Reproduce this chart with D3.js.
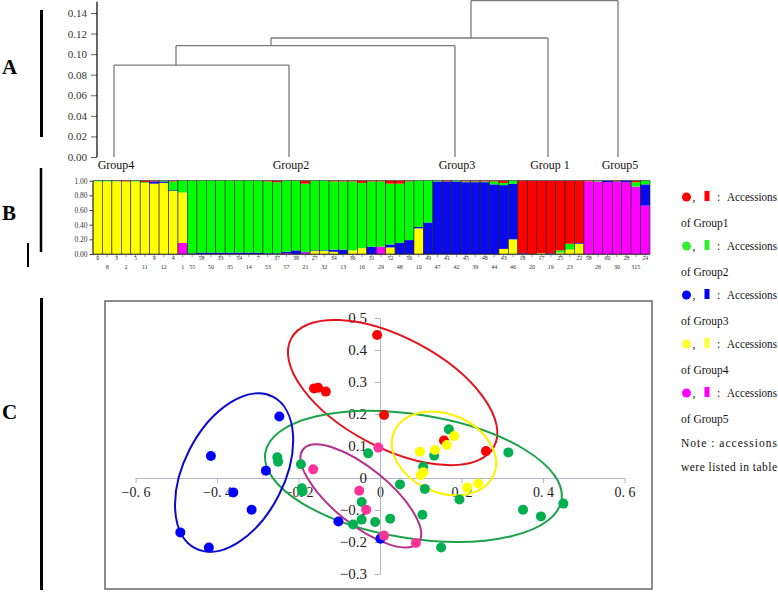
<!DOCTYPE html>
<html><head><meta charset="utf-8">
<script src="https://cdn.jsdelivr.net/npm/d3@7"></script>
<style>body{margin:0;background:#fff}svg{display:block}svg text{font-family:"Liberation Serif","Times New Roman",serif}</style>
</head><body><svg id="c" width="778" height="592"></svg>
<script>
// ---------- DATA ----------
// Panel A: dendrogram
const dendroTicks = [0, 0.02, 0.04, 0.06, 0.08, 0.10, 0.12, 0.14];
const leafNames = ["Group4", "Group2", "Group3", "Group 1", "Group5"];
const leafPos = [1.7, 19.2, 35.8, 45.1, 52.1];          // leaf order units
const mergeHeights = [0.0894, 0.1082, 0.1157, 0.152];   // successive joins
const mergeStem = [7.9, 17.4, 37.4];                     // where joined clusters rise

// Panel B: membership proportions (59 accessions)
const barLabels = ["0","8","3","2","5","11","9","12","4","1",
  "55","58","50","33","35","54","14","7","53","37",
  "57","38","21","27","32","34","13","36","16","31",
  "29","52","48","56","10","49",
  "47","41","42","45","39","48","44","43","46",
  "18","20","17","19","25","23","22",
  "58","26","60","30","28","315","24"];
const qRed = [0,0,.005,.01,0,.02,.01,0,.01,0, 0,0,0,0,0,0,0,0,.01,.02, 0,0,.04,0,0,.01,.01,.01,.03,.01, .01,.04,.04,.01,0,0, 0,.01,0,.01,.01,.01,.01,.03,0, .99,1,.99,.99,.95,.86,.85, .01,0,0,.01,0,.02,0];
const qGreen = [.01,.01,.005,0,.01,.01,0,.01,.12,.16, .99,.98,.98,.98,.98,.98,.98,.98,.98,.97, .97,.95,.93,.95,.95,.93,.93,.94,.89,.89, .89,.83,.81,.80,.63,.57, .01,0,.01,.01,.01,.01,.04,.03,.04, 0,0,0,0,.03,.08,0, 0,.01,0,0,0,.06,.05];
const qBlue = [0,0,0,0,0,0,.03,.02,.01,0, .01,.02,.02,.02,.02,.02,.02,.02,.01,.01, .02,.05,.01,.01,.01,.03,.06,0,0,.10, 0,.04,.15,.19,.02,.43, .99,.99,.99,.98,.98,.98,.95,.87,.76, .01,0,0,.01,0,0,.01, 0,0,.02,.01,.02,0,.29];
const qYellow = [.99,.99,.99,.99,.99,.97,.96,.97,.86,.69, 0,0,0,0,0,0,0,0,0,0, 0,0,0,.04,.04,.03,0,.05,.08,0, 0,.09,0,0,.35,0, 0,0,0,0,0,0,0,.07,.20, 0,0,.01,0,.02,.06,.14, 0,0,0,0,0,0,0];
const qMagenta = [0,0,0,0,0,0,0,0,0,.15, 0,0,0,0,0,0,0,0,0,0, .01,0,.02,0,0,0,0,0,0,0, .10,0,0,0,0,0, 0,0,0,0,0,0,0,0,0, 0,0,0,0,0,0,0, .99,.99,.98,.98,.98,.92,.66];
const bTicks = [0, 0.2, 0.4, 0.6, 0.8, 1.0];

// Panel C: PCoA coordinates
const pcRed = [[-0.007,0.447],[-0.162,0.28],[-0.152,0.282],[-0.133,0.27],[0.01,0.197],[0.157,0.117],[0.26,0.084]];
const pcGreen = [[-0.252,0.065],[-0.25,0.051],[-0.194,0.043],[-0.029,0.077],[-0.192,-0.032],[-0.19,-0.042],
  [0.169,0.152],[0.133,0.07],[0.106,0.035],[0.049,-0.02],[0.11,-0.034],[0.315,0.08],[0.195,-0.067],
  [-0.045,-0.075],[-0.045,-0.13],[-0.066,-0.145],[-0.012,-0.1375],[0.025,-0.127],[0.104,-0.115],
  [0.15,-0.217],[0.351,-0.099],[0.395,-0.12],[0.45,-0.08]];
const pcBlue = [[-0.247,0.192],[-0.415,0.069],[-0.28,0.023],[-0.36,-0.045],[-0.315,-0.099],[-0.49,-0.17],[-0.42,-0.217],[-0.102,-0.136],[0.001,-0.19]];
const pcPink = [[-0.164,0.027],[-0.051,-0.04],[-0.004,0.095],[-0.034,-0.099],[0.01,-0.18],[0.088,-0.203]];
const pcYellow = [[0.098,0.082],[0.135,0.0875],[0.164,0.103],[0.182,0.131],[0.106,0.018],[0.1,0.009],[0.214,-0.03],[0.241,-0.017]];
// ellipses: centre (x,y), semi-axes (x units), rotation deg
const ellRed = [0.031, 0.267, 0.282, 0.135, 28];
const ellGreen = [0.082, 0.005, 0.368, 0.152, 9];
const ellBlue = [-0.358, 0.017, 0.209, 0.123, -63];
const ellYellow = [0.157, 0.077, 0.133, 0.096, 23.5];
const ellPink = [-0.047, -0.056, 0.182, 0.069, 39];
const cXTicks = [-0.6, -0.4, -0.2, 0, 0.2, 0.4, 0.6];
const cYTicks = [-0.3, -0.2, -0.1, 0, 0.1, 0.2, 0.3, 0.4, 0.5];

const legendGroups = ["Group1", "Group2", "Group3", "Group4", "Group5"];

// ---------- DRAW ----------
const serif = "Liberation Serif, Times New Roman, serif";
const svg = d3.select("#c");
svg.append("rect").attr("width", 778).attr("height", 592).attr("fill", "#fff");
const setFont = (sel, size) => sel.style("font-family", serif).style("font-size", size + "px");

// Panel letters and side bars
[["A", 74], ["B", 220], ["C", 419]].forEach(([t, y]) => {
  setFont(svg.append("text").attr("x", 2).attr("y", y).text(t), 21)
    .style("font-weight", "bold").attr("fill", "#000");
});
[[41.5, 10, 137, 3], [41, 168, 252, 2.5], [28, 243, 267, 2], [41.5, 298, 590, 3]].forEach(([x, y1, y2, w]) => {
  svg.append("line").attr("x1", x).attr("x2", x).attr("y1", y1).attr("y2", y2)
    .attr("stroke", "#000").attr("stroke-width", w);
});

// ----- Panel A -----
const yA = d3.scaleLinear().domain([0, 0.14]).range([157, 13]);
const xA = d3.scaleLinear().domain([0, 56]).range([97, 657]);
const gA = svg.append("g");
const axA = gA.append("g").attr("transform", "translate(97,0)")
  .call(d3.axisLeft(yA).tickValues(dendroTicks).tickFormat(d3.format(".2f")).tickSize(6).tickSizeOuter(0).tickPadding(4));
axA.select(".domain").remove();
axA.selectAll("line").attr("stroke", "#666");
setFont(axA.selectAll("text"), 11).attr("fill", "#333");
gA.append("line").attr("x1", 97).attr("x2", 97).attr("y1", yA(0)).attr("y2", yA(mergeHeights[3]) + 1)
  .attr("stroke", "#000").attr("stroke-width", 1.2);

const dLines = [];
const leafTop = [mergeHeights[0], mergeHeights[0], mergeHeights[1], mergeHeights[2], mergeHeights[3]];
leafPos.forEach((p, i) => dLines.push([p, 0, p, leafTop[i]]));
mergeHeights.forEach((h, k) => {
  const left = k === 0 ? leafPos[0] : mergeStem[k - 1];
  const right = leafPos[k + 1];
  dLines.push([left, h, right, h]);
  if (k < mergeStem.length) dLines.push([mergeStem[k], h, mergeStem[k], mergeHeights[k + 1]]);
});
gA.selectAll("line.d").data(dLines).join("line").attr("class", "d")
  .attr("x1", d => xA(d[0])).attr("x2", d => xA(d[2]))
  .attr("y1", d => yA(d[1])).attr("y2", d => yA(d[3]))
  .attr("stroke", "#7a7a7a").attr("stroke-width", 1.3);
setFont(gA.selectAll("text.leaf").data(leafNames).join("text").attr("class", "leaf")
  .attr("x", (d, i) => xA(leafPos[i]) + 2).attr("y", 168.5).attr("text-anchor", "middle")
  .attr("fill", "#111").text(d => d), 12);

// ----- Panel B -----
const colB = {M: "#ff00ff", Y: "#ffff00", B: "#0a0af0", G: "#00ff00", R: "#ff0000"};
const order = [["M", qMagenta], ["Y", qYellow], ["B", qBlue], ["G", qGreen], ["R", qRed]];
const xB = d3.scaleBand().domain(d3.range(barLabels.length)).range([93, 650]).padding(0);
const yB = d3.scaleLinear().domain([0, 1]).range([254, 180.7]);
const gB = svg.append("g");
barLabels.forEach((lab, i) => {
  const tot = order.reduce((s, [, a]) => s + a[i], 0);
  let acc = 0;
  order.forEach(([k, arr]) => {
    const v = arr[i] / tot;
    if (v <= 0) return;
    gB.append("rect").attr("x", xB(i)).attr("width", xB.bandwidth())
      .attr("y", yB(acc + v)).attr("height", yB(acc) - yB(acc + v)).attr("fill", colB[k]);
    acc += v;
  });
  gB.append("rect").attr("x", xB(i)).attr("width", xB.bandwidth()).attr("y", yB(1)).attr("height", yB(0) - yB(1))
    .attr("fill", "none").attr("stroke", "#222").attr("stroke-width", 0.6);
});
gB.append("line").attr("x1", 92.5).attr("x2", 650).attr("y1", 254.5).attr("y2", 254.5).attr("stroke", "#333").attr("stroke-width", 0.8);
gB.selectAll("line.bt").data(barLabels).join("line").attr("class", "bt")
  .attr("x1", (d, i) => xB(i) + xB.bandwidth() / 2).attr("x2", (d, i) => xB(i) + xB.bandwidth() / 2)
  .attr("y1", 254.5).attr("y2", 257).attr("stroke", "#555").attr("stroke-width", 0.6);
setFont(gB.selectAll("text.bl").data(barLabels).join("text").attr("class", "bl")
  .attr("x", (d, i) => xB(i) + xB.bandwidth() / 2)
  .attr("y", (d, i) => ((i < 10 || i >= 52) ? i % 2 : (i + 1) % 2) === 0 ? 260 : 268.5)
  .attr("text-anchor", "middle").attr("fill", "#333").text(d => d), 6);
const axB = gB.append("g").attr("transform", "translate(92.5,0)")
  .call(d3.axisLeft(yB).tickValues(bTicks).tickFormat(d3.format(".2f")).tickSize(3).tickSizeOuter(0).tickPadding(2));
axB.select(".domain").attr("stroke", "#333");
axB.selectAll("line").attr("stroke", "#333");
setFont(axB.selectAll("text"), 7.5).attr("fill", "#333");

// ----- Panel C -----
const gC = svg.append("g");
gC.append("rect").attr("x", 105).attr("y", 301).attr("width", 547).attr("height", 288)
  .attr("fill", "#fff").attr("stroke", "#666").attr("stroke-width", 1.5);
const xC = d3.scaleLinear().domain([-0.6, 0.6]).range([135.5, 624.5]);
const yC = d3.scaleLinear().domain([-0.3, 0.5]).range([574, 318]);
const fmtX = v => v === 0 ? "0" : d3.format(".1f")(v).replace(".", ". ");
const fmtY = v => v === 0 ? "0" : d3.format(".1f")(v);
const axX = gC.append("g").attr("transform", `translate(0,${yC(0)})`)
  .call(d3.axisBottom(xC).tickValues(cXTicks).tickFormat(fmtX).tickSize(5).tickSizeOuter(0).tickPadding(4));
axX.select(".domain").attr("stroke", "#b4b4cc");
axX.selectAll("line").attr("stroke", "#b4b4cc");
setFont(axX.selectAll("text"), 14).attr("fill", "#222");
const axY = gC.append("g").attr("transform", `translate(${xC(0)},0)`)
  .call(d3.axisLeft(yC).tickValues(cYTicks).tickFormat(fmtY).tickSize(5).tickSizeOuter(0).tickPadding(8));
axY.select(".domain").attr("stroke", "#b4b4cc");
axY.selectAll("line").attr("stroke", "#b4b4cc");
setFont(axY.selectAll("text"), 15).attr("fill", "#222");

const kx = xC(1) - xC(0);
[[ellRed, "#e3141c"], [ellGreen, "#1ba34a"], [ellBlue, "#0a0acc"], [ellYellow, "#fff000"], [ellPink, "#b4308c"]].forEach(([e, c]) => {
  gC.append("ellipse").attr("transform", `translate(${xC(e[0])},${yC(e[1])}) rotate(${e[4]})`)
    .attr("rx", e[2] * kx).attr("ry", e[3] * kx).attr("fill", "none").attr("stroke", c).attr("stroke-width", 2);
});
[[pcGreen, "#00b050"], [pcBlue, "#0000ff"], [pcRed, "#ff0000"], [pcPink, "#ff3399"], [pcYellow, "#ffff00"]].forEach(([pts, c]) => {
  gC.selectAll(null).data(pts).join("circle")
    .attr("cx", d => xC(d[0])).attr("cy", d => yC(d[1])).attr("r", 5).attr("fill", c);
});

// ----- Legend -----
const legCol = ["#ff0000", "#33ee33", "#0000ff", "#ffff33", "#ff00ff"];
const gL = svg.append("g").attr("fill", "#111");
const lt = (x, y, t) => setFont(gL.append("text").attr("x", x).attr("y", y).text(t), 11.5);
legendGroups.forEach((g, i) => {
  const y = 201 + i * 49;
  gL.append("circle").attr("cx", 686.5).attr("cy", y - 4).attr("r", 4.5).attr("fill", legCol[i]);
  lt(692.5, y, ",");
  gL.append("rect").attr("x", 704.5).attr("y", y - 10).attr("width", 5).attr("height", 10).attr("fill", legCol[i]);
  lt(717, y, ":");
  lt(727, y, "Accessions").attr("textLength", 50).attr("lengthAdjust", "spacingAndGlyphs");
  lt(681, y + 25.5, "of " + g);
});
lt(681, 447, "Note : accessions").attr("textLength", 96).attr("lengthAdjust", "spacing");
lt(681, 471, "were listed in table").attr("textLength", 96).attr("lengthAdjust", "spacing");
</script>
</body></html>
